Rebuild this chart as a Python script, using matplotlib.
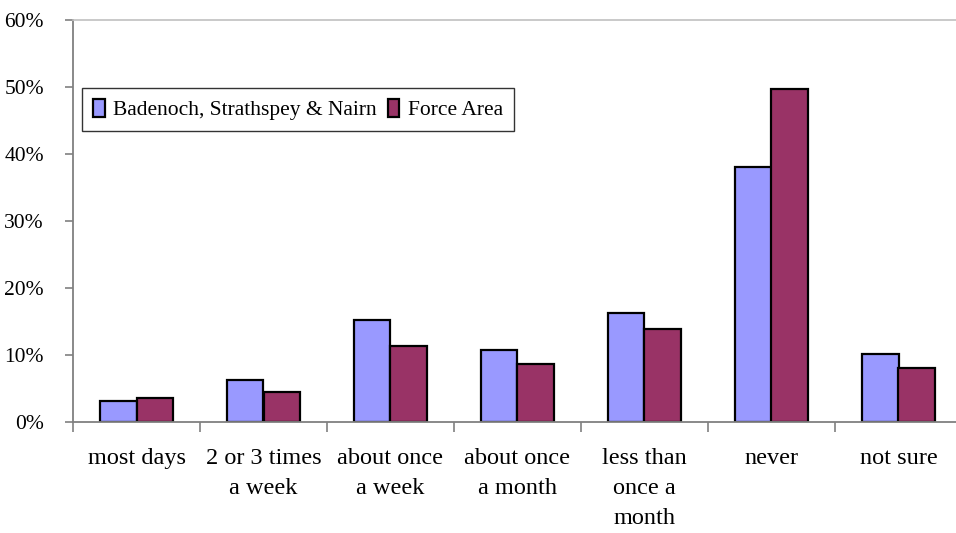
import numpy as np
import matplotlib
matplotlib.use("Agg")
import matplotlib.pyplot as plt
from matplotlib.ticker import FuncFormatter

categories = ["most days", "2 or 3 times\na week", "about once\na week", "about once\na month",
              "less than\nonce a\nmonth", "never", "not sure"]
badenoch = [0.032, 0.063, 0.152, 0.107, 0.163, 0.381, 0.101]
force_area = [0.036, 0.045, 0.113, 0.086, 0.139, 0.497, 0.080]
series_names = ["Badenoch, Strathspey & Nairn", "Force Area"]

plt.rcParams['font.family'] = ['Liberation Serif', 'DejaVu Serif']
AXCOL = '#808080'

fig = plt.figure(figsize=(9.56, 5.33), dpi=100)
ax = fig.add_axes([73/956, 111/533, 889/956, 402/533])

x = np.arange(len(categories))
w = 0.29
ax.bar(x - w/2, badenoch, w, color='#9999FF', edgecolor='black', linewidth=1.6, label=series_names[0])
ax.bar(x + w/2, force_area, w, color='#993366', edgecolor='black', linewidth=1.6, label=series_names[1])

ax.set_xlim(-0.5, len(categories) - 0.5)
ax.set_ylim(0, 0.6)
ax.set_yticks(np.arange(0, 0.61, 0.1))
ax.yaxis.set_major_formatter(FuncFormatter(lambda v, p: "%d%%" % round(v * 100)))

# category labels between boundary ticks
ax.set_xticks(np.arange(-0.5, len(categories), 1.0))
ax.set_xticklabels([])
ax.set_xticks(x, minor=True)
ax.set_xticklabels(categories, minor=True, fontsize=17.5, linespacing=1.55, va='top')
ax.tick_params(axis='x', which='minor', length=0, pad=19)
ax.tick_params(axis='x', which='major', length=7, width=1.2, color=AXCOL, direction='out')
ax.tick_params(axis='y', length=6, width=1.2, color=AXCOL, direction='out', labelsize=15.5, pad=15)

for side in ['left', 'bottom']:
    ax.spines[side].set_color(AXCOL)
    ax.spines[side].set_linewidth(1.3)
ax.spines['top'].set_color('#c0c0c0')
ax.spines['top'].set_linewidth(1.2)
ax.spines['right'].set_visible(False)

leg = ax.legend(loc='upper left', bbox_to_anchor=(82/956, 1 - 88/533), bbox_transform=fig.transFigure,
                ncol=2, fontsize=15.5, frameon=True, fancybox=False, borderaxespad=0,
                handlelength=0.55, handleheight=0.9, handletextpad=0.4, columnspacing=0.5,
                borderpad=0.5)
leg.get_frame().set_edgecolor('black')
leg.get_frame().set_linewidth(1.0)

fig.savefig("out.png", dpi=100)
